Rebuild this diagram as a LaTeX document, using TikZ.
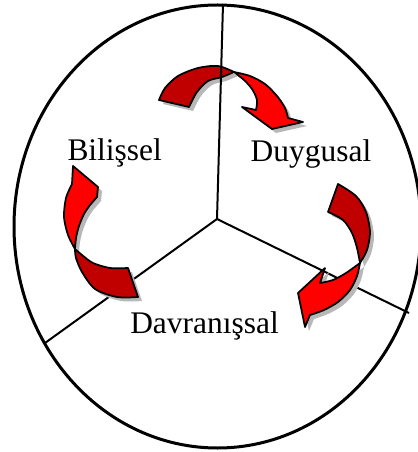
\documentclass[tikz,border=0pt]{standalone}
\usepackage{fontspec}
\setmainfont{Liberation Serif}
\usepackage{tikz}
\usepackage{xcolor}

\definecolor{ribdark}{HTML}{C00000}
\definecolor{ribred}{HTML}{FF0000}

% ribbon arrow pieces (pixel coordinates, y grows downwards)
\newcommand{\ribTopBack}{plot[smooth] coordinates {(159,100) (165,88) (178,76) (198,68) (218,66) (234,72)}
  -- plot[smooth] coordinates {(234,72) (222,77) (208,81) (197,92) (189,107)} -- cycle}
\newcommand{\ribTopFront}{plot[smooth] coordinates {(234,72) (250,76) (265,84) (277,96) (285,108) (288,118)}
  -- (303,122) -- (272,129) -- (242,107) -- (256,110)
  -- plot[smooth] coordinates {(256,110) (257,100) (252,89) (244,80) (234,72)} -- cycle}
\newcommand{\ribRightBack}{plot[smooth] coordinates {(338,184) (356,196) (366,212) (370,232) (367,250) (360,263)}
  -- plot[smooth] coordinates {(360,263) (357,248) (352,233) (343,220) (328,212)} -- cycle}
\newcommand{\ribRightFront}{plot[smooth] coordinates {(360,263) (357,276) (350,290) (338,302) (324,310) (310,315)}
  -- (305,327) -- (298,293) -- (325,268) -- (320,283)
  -- plot[smooth] coordinates {(320,283) (333,280) (346,273) (360,263)} -- cycle}
\newcommand{\ribLeftBack}{plot[smooth] coordinates {(128,268) (110,268) (93,263) (82,255) (75,249)}
  -- plot[smooth] coordinates {(75,249) (76,258) (82,272) (95,289) (117,297) (138,297)} -- cycle}
\newcommand{\ribLeftFront}{plot[smooth] coordinates {(75,249) (68,235) (64,217) (66,198) (72,184)}
  -- (73,166) -- (98,187) -- (97,197) -- (90,205)
  -- plot[smooth] coordinates {(90,205) (84,214) (79,226) (76,238) (75,249)} -- cycle}

\begin{document}
\begin{tikzpicture}[
  x=0.02cm, y=-0.02cm,
  ring/.style={draw, line width=0.06cm},
  spoke/.style={draw, line width=0.04cm},
  ribback/.style={fill=ribdark, draw=black, line width=0.035cm, line join=round},
  ribfront/.style={fill=ribred, draw=black, line width=0.035cm, line join=round},
  ribshadow/.style={fill=black!28, draw=none},
  lbl/.style={font=\fontsize{17.9}{20}\selectfont, anchor=base, inner sep=0pt}
]
\useasboundingbox (0,0) rectangle (417,452);

% Circle and spokes
\draw[ring] (217.5,226.5) ellipse [x radius=203.5, y radius=221.5];
\coordinate (o) at (217,219);
\coordinate (top) at (223,4);
\coordinate (lt) at (45,343);
\coordinate (rt) at (409,313);
\draw[spoke] (o) -- (lt);
\draw[spoke] (o) -- (rt);

% Shadows
\foreach \p in {\ribTopBack,\ribTopFront,\ribRightBack,\ribRightFront,\ribLeftBack,\ribLeftFront}
  \fill[ribshadow, shift={(4,4)}] \p;

% Arrows
\draw[ribback] \ribTopBack;
\draw[ribfront] \ribTopFront;
\draw[ribback] \ribRightBack;
\draw[ribfront] \ribRightFront;
\draw[ribback] \ribLeftBack;
\draw[ribfront] \ribLeftFront;

\draw[spoke] (o) -- (top);

% Labels
\node[lbl] (bil) at (114.7,161) {Bilişsel};
\node[lbl] (duy) at (311,162) {Duygusal};
\node[lbl] (dav) at (204.5,333) {Davranışsal};

\end{tikzpicture}
\end{document}
